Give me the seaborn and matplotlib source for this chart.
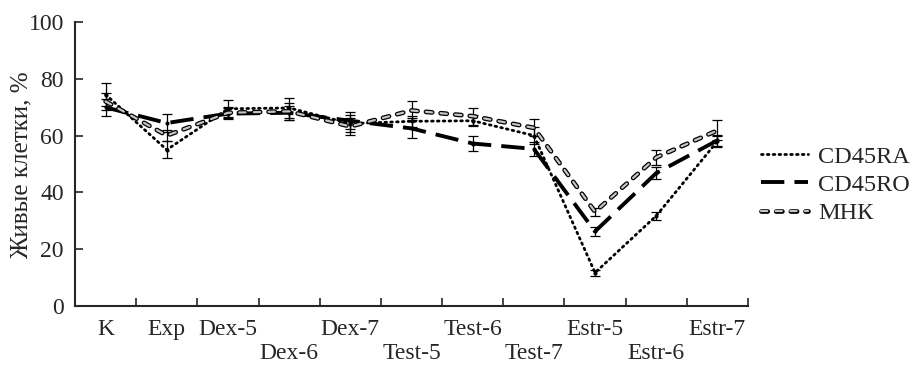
import matplotlib
matplotlib.use("Agg")
import matplotlib.pyplot as plt
import matplotlib.patheffects as pe
from matplotlib.ticker import FixedLocator, NullFormatter
import numpy as np
import pandas as pd
import seaborn as sns

categories = ["K", "Exp", "Dex-5", "Dex-6", "Dex-7", "Test-5", "Test-6",
              "Test-7", "Estr-5", "Estr-6", "Estr-7"]
cd45ra = [74.4, 55.0, 69.4, 69.7, 64.2, 65.0, 65.2, 60.0, 11.8, 31.8, 58.0]
cd45ra_err = [4.0, 3.0, 3.0, 3.5, 3.0, 2.0, 2.0, 3.0, 1.0, 1.5, 2.0]
cd45ro = [69.9, 64.4, 67.7, 68.0, 65.2, 62.5, 57.2, 55.3, 26.3, 46.8, 58.3]
cd45ro_err = [3.0, 3.0, 2.0, 2.5, 3.0, 3.5, 2.5, 2.5, 1.5, 2.0, 2.0]
mhk = [72.0, 60.0, 68.0, 68.5, 63.2, 68.8, 66.8, 62.7, 33.2, 52.3, 61.8]
mhk_err = [3.0, 2.0, 2.0, 3.0, 3.0, 3.5, 3.0, 3.0, 1.5, 2.5, 3.5]
series_names = ["CD45RA", "CD45RO", "МНК"]
y_label = "Живые клетки, %"
second_row = {"Dex-6", "Test-5", "Test-7", "Estr-6"}

sns.set_theme(style="ticks")
plt.rcParams["font.family"] = ["Liberation Serif", "DejaVu Serif"]

fig = plt.figure(figsize=(9.24, 3.69), dpi=100)
ax = fig.add_axes([75 / 924, 1 - 306.3 / 369, (748 - 75) / 924, (306.3 - 21.7) / 369])

pos = np.arange(len(categories))
df = pd.DataFrame({"pos": pos, "CD45RA": cd45ra, "CD45RO": cd45ro, "МНК": mhk})

# error bars
for vals, errs in [(cd45ra, cd45ra_err), (cd45ro, cd45ro_err), (mhk, mhk_err)]:
    ax.errorbar(pos, vals, yerr=errs, fmt="none", ecolor="black",
                elinewidth=0.9, capsize=3.6, capthick=0.9, zorder=2)

# CD45RA dotted
sns.lineplot(data=df, x="pos", y="CD45RA", ax=ax, color="black", lw=2.0,
             marker="o", markersize=3, markeredgewidth=0, zorder=3)
l1 = ax.lines[-1]
l1.set_linestyle((0, (0.6, 1.5)))
l1.set_dash_capstyle("round")

# CD45RO long dash
sns.lineplot(data=df, x="pos", y="CD45RO", ax=ax, color="black", lw=2.8,
             marker="o", markersize=3, markeredgewidth=0, zorder=4)
l2 = ax.lines[-1]
l2.set_linestyle((0, (6, 2.6)))

# MHK outlined grey dash
sns.lineplot(data=df, x="pos", y="МНК", ax=ax, color="#c4c4c4", lw=1.6, zorder=5)
l3 = ax.lines[-1]
l3.set_linestyle((0, (2.8, 3.8)))
l3.set_dash_capstyle("round")
l3.set_path_effects([pe.Stroke(linewidth=3.4, foreground="black"), pe.Normal()])

ax.set_xlim(-0.5, len(categories) - 0.5)
ax.set_ylim(0, 100)
ax.set_yticks([0, 20, 40, 60, 80, 100])
ax.tick_params(axis="y", direction="in", length=6, width=1.2, labelsize=17, pad=8)

ax.set_xticks(pos)
ax.set_xticklabels([("\n" + c) if c in second_row else c for c in categories],
                   fontsize=17, linespacing=1.2)
ax.tick_params(axis="x", which="major", length=0, pad=9)
ax.xaxis.set_minor_locator(FixedLocator(list(pos[:-1] + 0.5) + [len(categories) - 0.5]))
ax.xaxis.set_minor_formatter(NullFormatter())
ax.tick_params(axis="x", which="minor", direction="in", length=6, width=1.2)

for s in ["top", "right"]:
    ax.spines[s].set_visible(False)
for s in ["left", "bottom"]:
    ax.spines[s].set_linewidth(1.5)

ax.set_xlabel("")
ax.set_ylabel(y_label, fontsize=18)
ax.yaxis.set_label_coords((32 - 75) / 673, (306.3 - 165) / (306.3 - 21.7))

leg = fig.legend([l1, l2, l3], series_names, loc="center left",
                 bbox_to_anchor=(751 / 924, 1 - 185 / 369), frameon=False,
                 fontsize=17.5, handlelength=1.95, handletextpad=0.4,
                 labelspacing=0.25, borderaxespad=0)
for h in leg.legend_handles:
    h.set_marker("")

fig.savefig("out.png", dpi=100)
